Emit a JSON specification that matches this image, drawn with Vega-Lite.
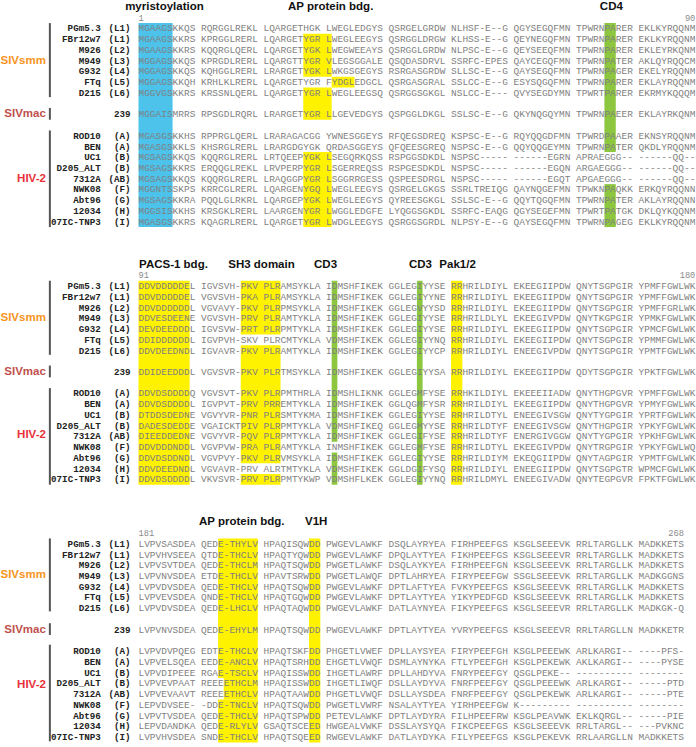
{
  "$schema": "https://vega.github.io/schema/vega-lite/v6.json",
  "width": 696,
  "height": 747,
  "padding": 0,
  "autosize": {"type": "fit", "contains": "padding"},
  "background": "white",
  "config": {"view": {"stroke": null}},
  "resolve": {"scale": {"color": "independent"}},
  "datasets": {
    "hl": [
      {"x0": 0, "x1": 6, "y0": -0.5, "y1": 18.5, "kind": "cyan"},
      {"x0": 29, "x1": 34, "y0": 0.5, "y1": 4.5, "kind": "yellow"},
      {"x0": 34, "x1": 38, "y0": 4.5, "y1": 5.5, "kind": "yellow"},
      {"x0": 29, "x1": 34, "y0": 5.5, "y1": 8.5, "kind": "yellow"},
      {"x0": 29, "x1": 34, "y0": 11.5, "y1": 18.5, "kind": "yellow"},
      {"x0": 82, "x1": 84, "y0": -0.5, "y1": 11.5, "kind": "green"},
      {"x0": 82, "x1": 84, "y0": 14.5, "y1": 18.5, "kind": "green"},
      {"x0": 0, "x1": 9, "y0": 23.5, "y1": 42.5, "kind": "yellow"},
      {"x0": 18, "x1": 25, "y0": 23.5, "y1": 28.5, "kind": "yellow"},
      {"x0": 18, "x1": 25, "y0": 29.5, "y1": 40.5, "kind": "yellow"},
      {"x0": 18, "x1": 25, "y0": 41.5, "y1": 42.5, "kind": "yellow"},
      {"x0": 34, "x1": 35, "y0": 23.5, "y1": 38.5, "kind": "green"},
      {"x0": 34, "x1": 35, "y0": 39.5, "y1": 42.5, "kind": "green"},
      {"x0": 49, "x1": 50, "y0": 23.5, "y1": 42.5, "kind": "green"},
      {"x0": 55, "x1": 57, "y0": 23.5, "y1": 42.5, "kind": "yellow"},
      {"x0": 14, "x1": 21, "y0": 47.5, "y1": 60.5, "kind": "yellow"},
      {"x0": 15, "x1": 21, "y0": 60.5, "y1": 62.5, "kind": "yellow"},
      {"x0": 14, "x1": 21, "y0": 62.5, "y1": 66.5, "kind": "yellow"},
      {"x0": 30, "x1": 32, "y0": 47.5, "y1": 66.5, "kind": "yellow"}
    ],
    "grp": [
      {"grp": "SIVsmm", "y0": -0.5, "y1": 6.4, "ly": 3},
      {"grp": "SIVmac", "y0": 7.4, "y1": 8.5, "ly": 8},
      {"grp": "HIV-2", "y0": 9.5, "y1": 18.5, "ly": 14},
      {"grp": "SIVsmm", "y0": 23.5, "y1": 30.4, "ly": 27},
      {"grp": "SIVmac", "y0": 31.4, "y1": 32.5, "ly": 32},
      {"grp": "HIV-2", "y0": 33.5, "y1": 42.5, "ly": 37.9},
      {"grp": "SIVsmm", "y0": 47.5, "y1": 54.3, "ly": 50.9},
      {"grp": "SIVmac", "y0": 55.4, "y1": 56.5, "ly": 56},
      {"grp": "HIV-2", "y0": 57.4, "y1": 66.4, "ly": 61.2}
    ],
    "titles": [
      {"t": "myristoylation", "col": -2.35, "line": -2},
      {"t": "AP protein bdg.", "col": 26.3, "line": -2},
      {"t": "CD4", "col": 81.2, "line": -2},
      {"t": "PACS-1 bdg.", "col": 0.1, "line": 22},
      {"t": "SH3 domain", "col": 15.8, "line": 22},
      {"t": "CD3", "col": 30.9, "line": 22},
      {"t": "CD3", "col": 47.6, "line": 22},
      {"t": "Pak1/2", "col": 52.95, "line": 22},
      {"t": "AP protein bdg.", "col": 10.65, "line": 46},
      {"t": "V1H", "col": 29.3, "line": 46}
    ],
    "numStart": [
      {"t": "1", "col": 0, "line": -1},
      {"t": "91", "col": 0, "line": 23},
      {"t": "181", "col": 0, "line": 47}
    ],
    "numEnd": [
      {"t": "90", "col": 98, "line": -1},
      {"t": "180", "col": 98, "line": 23},
      {"t": "268", "col": 96, "line": 47}
    ],
    "seq": [
      {"line": 0, "name": "PGm5.3", "clade": "(L1)", "seq": "MGAAGSKKQS RQRGGLREKL LQARGETHGK LWEGLEDGYS QSRGELGRDW NLHSF-E--G QGYSEGQFMN TPWRNPARER EKLKYRQQNM"},
      {"line": 1, "name": "FBr12w7", "clade": "(L1)", "seq": "MGAAGSKKRS KPRGGLRERL LQARGETYGR LWEGLEEGYS QSRGGLDRGW KLHSS-E--G QEYNEGQFMN TPWRNPARER EKLKYRQQNM"},
      {"line": 2, "name": "M926", "clade": "(L2)", "seq": "MGAAGSKKRS KQQRGLQERL LQARGETYGK LWEGWEEAYS QSRGGLGRDW NLPSC-E--G QEYSEEQFMN TPWRNPARER EKLEYRKQNM"},
      {"line": 3, "name": "M949", "clade": "(L3)", "seq": "MGGAGSKKQS KPRGDLRERL LQARGTTYGR VLEGSGGALE QSQDASDRVL SSRFC-EPES QAYCEGQFMN TPWRNPATER AKLQYRQQCM"},
      {"line": 4, "name": "G932", "clade": "(L4)", "seq": "MGGAGSKKQS KQHGGLRERL LRARGETYGK LWKGSGEGYS RSRGASGRDW SLLSC-E--G QAYSEGQFMN TPWRNPAGER EKELYRQQNM"},
      {"line": 5, "name": "FTq", "clade": "(L5)", "seq": "MGGAGSKKQH KRHLKLRERL LQARGETYGR FYDGLEDGCL QSRGASGRAL SSLCC-E--G ESYSQGQFMN TPWRNPARER EKLAYRQQNM"},
      {"line": 6, "name": "D215", "clade": "(L6)", "seq": "MGGVGSKKRS KRSSNLQERL LQARGETYGR LWEGLEEGSQ QSRGGSGKGL NSLCC-E--- QVYSEGDYMN TPWRTPARER EKRMYKQQQM"},
      {"line": 8, "name": "", "clade": "239", "seq": "MGGAISMRRS RPSGDLRQRL LRARGETYGR LLGEVEDGYS QSPGGLDKGL SSLSC-E--G QKYNQGQYMN TPWRNPAEER EKLAYRKQNM"},
      {"line": 10, "name": "ROD10", "clade": "(A)", "seq": "MGASGSKKHS RPPRGLQERL LRARAGACGG YWNESGGEYS RFQEGSDREQ KSPSC-E--G RQYQQGDFMN TPWRDPAAER EKNSYRQQNM"},
      {"line": 11, "name": "BEN", "clade": "(A)", "seq": "MGASGSKKLS KHSRGLRERL LRARGDGYGK QRDASGGEYS QFQEESGREQ NSPSC-E--G QQYQQGEYMN TPWRNPATER QKDLYRQQNM"},
      {"line": 12, "name": "UC1", "clade": "(B)", "seq": "MGSAGSKKQS KQQRGLRERL LRTQEEPYGK LSEGQRKQSS RSPGGSDKDL NSPSC----- ------EGRN APRAEGGG-- ------QQ--"},
      {"line": 13, "name": "D205_ALT", "clade": "(B)", "seq": "MGSAGSKKRS ERQQGLREKL LRVPERPYGR LSGERREQSS RSPGESDKDL NSPSC----- ------EGQN ARGAEGGG-- ------QQ--"},
      {"line": 14, "name": "7312A", "clade": "(AB)", "seq": "MGSAGSKKQS KQQRGLRERL LRAQGGPYGR LSGGRRGESS QSPEESDRGL NSPSC----- ------EGQT APGAEGGG-- ------QQ--"},
      {"line": 15, "name": "NWK08", "clade": "(F)", "seq": "MGGNTSSKPS KRRCGLRERL LQARGENYGQ LWEGLEEGYS QSRGELGKGS SSRLTREIQG QAYNQGEFMN TPWKNPAQKK ERKQYRQQNN"},
      {"line": 16, "name": "Abt96", "clade": "(G)", "seq": "MGSAGSKKRA PQQLGLRKRL LQARGEPYGK LWEGLEEGYS QYREESGKGL SSLSC-E--G QQYTQGQFMN TPWRNPATER AKLAYRQQNN"},
      {"line": 17, "name": "12034", "clade": "(H)", "seq": "MGGSISKKHS KRSGKLRERL LAARGENYGR LWGGLEDGFE LYQGGSGKDL SSRFC-EAQG QGYSEGEFMN TPWRTPATGK DKLQYKQQNM"},
      {"line": 18, "name": "07IC-TNP3", "clade": "(I)", "seq": "MGASGSKKRS KQAGRLRERL LQARGETYGR LWDGLEEGYS QSRGGSGRDL NLPSY-E--G QAYSEGQFMN TPWRNPAGEG EKLKYRQQNM"},
      {"line": 24, "name": "PGm5.3", "clade": "(L1)", "seq": "DDVDDDDDEL IGVSVH-PKV PLRAMSYKLA IDMSHFIKEK GGLEGIYYSE RRHRILDIYL EKEEGIIPDW QNYTSGPGIR YPMFFGWLWK"},
      {"line": 25, "name": "FBr12w7", "clade": "(L1)", "seq": "DDVDDDDDEL VGVSVH-PKA PLRAMSYKLA IDMSHFIKEK GGLEGIYYNE RRHRILDIYL EKEEGIIPDW QNYTSGPGIR YPMFFGWLWK"},
      {"line": 26, "name": "M926", "clade": "(L2)", "seq": "DDVDDDDDDL VGVAVY-PKV PLRPMSYKLA IDMSHFIKEK GGLEGVYYSD RRHRILDIYL EKEEGIIPDW QNYTSGPGIR YPMFFGRLWK"},
      {"line": 27, "name": "M949", "clade": "(L3)", "seq": "DDVESDEENE VGVSVH-PRV PLRAMTYKLA IDMSHFIKEK GGLEGIYYSE RRHRILDLYL EKEEGIVPDW QNYTKGPGIR YPMKFGWLWK"},
      {"line": 28, "name": "G932", "clade": "(L4)", "seq": "DEVDEEDDDL IGVSVW-PRT PLRPMTYKLA IDMSHFIKEK GGLEGIYYSE RRHRILDIYL EKEEGIIPDW QNYTSGPGIR YPMCFGWLWK"},
      {"line": 29, "name": "FTq", "clade": "(L5)", "seq": "DDIDDDDDDL IGVPVH-SKV PLRCMTYKLA VDMSHFIKEK GGLEGIYYNQ RRHRILDIYL EKEEGIIPDW QNYTSGPGIR YPMMFGWLWK"},
      {"line": 30, "name": "D215", "clade": "(L6)", "seq": "DDVDEEDNDL IGVAVR-PKV PLRAMTYKLA IDMSHFIKEK GGLEGIYYCP RRHRILDIYL ENEEGIVPDW QNYTSGPGIR YPMTFGWLWK"},
      {"line": 32, "name": "", "clade": "239", "seq": "DDIDEEDDDL VGVSVR-PKV PLRTMSYKLA IDMSHFIKEK GGLEGIYYSA RRHRILDIYL EKEEGIIPDW QDYTSGPGIR YPKTFGWLWK"},
      {"line": 34, "name": "ROD10", "clade": "(A)", "seq": "DDVDSDDDDQ VGVSVT-PKV PLRPMTHRLA IDMSHLIKNK GGLEGMFYSE RRHKILDIYL EKEEEIIADW QNYTHGPGVR YPMFFGWLWK"},
      {"line": 35, "name": "BEN", "clade": "(A)", "seq": "DDVDSDDDDL IGVPVT-PRV PRREMTYKLA IDMSHFIKEK GGLQGMFYSR RRHRILDIYL EKEEGIIPDW QNYTHGPGVR YPMYFGWLWK"},
      {"line": 36, "name": "UC1", "clade": "(B)", "seq": "DTDDSDEDNE VGVYVR-PNR PLRSMTYKMA IDMSHFIKEK GGLEGIYYSE RRHRILDTYL ENEEGIVSGW QNYTYGPGIR YPRTFGWLWK"},
      {"line": 37, "name": "D205_ALT", "clade": "(B)", "seq": "DADESDEDDE VGAICKTPIV PLRPMTYKLA VDMSHFIKEQ GGLEGMYYSE RRHRILDTYF ENEEGIVSGW QNYTHGPGIR YPKYFGWLWK"},
      {"line": 38, "name": "7312A", "clade": "(AB)", "seq": "DIEEDDEDNE VGVYVR-PQV PLRPMTYKLA IDMSHFIKEK GGLEGIFYSE RRHRILDTYF ENERGIVGGW QNYTYGPGIR YPKHFGWLWK"},
      {"line": 39, "name": "NWK08", "clade": "(F)", "seq": "DDVDDDNDDL VGVPVW-PRA PLRAMTYKLA INMSHFIKEK GGLEGMFYSE RRHRILDTYL EKEEGIVPDW QNYTRGPGIR YPKYFGWLWQ"},
      {"line": 40, "name": "Abt96", "clade": "(G)", "seq": "DDVDSDDNDL VGVPVY-PKV PLRVMSYKLA IDMSHFIKEK GGLEGIYYSE RRHRILDIYM EKEQGIIPDW QNYTAGPGIR YPMTFGWLWK"},
      {"line": 41, "name": "12034", "clade": "(H)", "seq": "DDVDEEDNDL VGVAVR-PRV ALRTMTYKLA VDMSHFIKEK GGLDGIFYSQ RRHRILDIYL ENEEGIIPDW QNYTSGPGTR WPMCFGWLWK"},
      {"line": 42, "name": "07IC-TNP3", "clade": "(I)", "seq": "DDVDSDDDDL VKVSVR-PRV PLRPMTYKWP VDMSHFLKEK GGLEGIYYNQ RRHRILDMYL ENEEGIVADW QNYTEGPGVR FPKTFGWLWK"},
      {"line": 48, "name": "PGm5.3", "clade": "(L1)", "seq": "LVPVSASDEA QEDE-THYLV HPAQISQWDD PWGEVLAWKF DSQLAYRYEA FIRHPEEFGS KSGLSEEEVK RRLTARGLLK MADKKETS"},
      {"line": 49, "name": "FBr12w7", "clade": "(L1)", "seq": "LVPVHVSEEA QTDE-THCLV HPAQTYQWDD PWGEVLAWKF DPQLAYTYEA FIKHPEEFGS KSGLSEEEVR RRLTARGLLK MADKKETS"},
      {"line": 50, "name": "M926", "clade": "(L2)", "seq": "LVPVSVTDEA QEDE-THCLM HPAQTSQWDD PWGETLAWKF DSQLAYKYEA FIRHPEEFGN KSGLSEEEVK RRLTARGLLK MADKKETS"},
      {"line": 51, "name": "M949", "clade": "(L3)", "seq": "LVPVNVSDEA ETDE-THCLV HPAVTSRWDD PWGETLAWQF DPTLAHRYEA FIRYPEEFGW SSGLSEEEVK RRLTARGLLK MADKGGNS"},
      {"line": 52, "name": "G932", "clade": "(L4)", "seq": "LVPVDVSDEA QEDE-THCLV HPAQTSQWDD PWGEVLAWKF DPTLAFTYEA FVKYPEEFGS KSGLSEEEVK RRLTARGLLK MADKKETS"},
      {"line": 53, "name": "FTq", "clade": "(L5)", "seq": "LVPVEVSDEA QNDE-THCLV HPAQTGQWDD PWGEVLAWKF DPTLAYTYEA YIKYPEDFGD KSGLSEEEVK RRLTARGLLK MADKKETS"},
      {"line": 54, "name": "D215", "clade": "(L6)", "seq": "LVPVDVSDEA QEDE-LHCLV HPAQTAQWDD PWGEVLAWKF DATLAYNYEA FIKYPEEFGS KSGLSEEEVR RRLTARGLLK MADKGK-Q"},
      {"line": 56, "name": "", "clade": "239", "seq": "LVPVNVSDEA QEDE-EHYLM HPAQTSQWDD PWGEVLAWKF DPTLAYTYEA YVRYPEEFGS KSGLSEEEVR RRLTARGLLN MADKKETR"},
      {"line": 58, "name": "ROD10", "clade": "(A)", "seq": "LVPVDVPQEG EDTE-THCLV HPAQTSKFDD PHGETLVWEF DPLLAYSYEA FIRYPEEFGH KSGLPEEEWK ARLKARGI-- ----PFS-"},
      {"line": 59, "name": "BEN", "clade": "(A)", "seq": "LVPVELSQEA EEDE-ANCLV HPAQTSRHDD EHGETLVWQF DSMLAYNYKA FTLYPEEFGH KSGLPEKEWK AKLKARGI-- ----PYSE"},
      {"line": 60, "name": "UC1", "clade": "(B)", "seq": "LVPVDIPEEE RGAE-TSCLV HPAQISSWDD IHGETLAWRF DPLLAHDYVA FNRYPEEFGY QSGLPEKE-- ---------- --------"},
      {"line": 61, "name": "D205_ALT", "clade": "(B)", "seq": "LVPVEVPAAT REEEETHCLM HPAQISSWDD IHGETLIWQF DSLLAYDYVA FNRFPEEFGY QSGLPEEEWK ARLKARGI-- -----PTD"},
      {"line": 62, "name": "7312A", "clade": "(AB)", "seq": "LVPVEVAAVT REEEETHCLV HPAQTAAWDD PHGETLVWQF DSLLAYSDEA FNRFPEEFGY QSGLPEKEWK ARLKARGI-- -----PTE"},
      {"line": 63, "name": "NWK08", "clade": "(F)", "seq": "LEPVDVSEE- -DDE-TNCLV HPAQTSQWDD PWGETLVWRF NSALAYTYEA YIRHPEEFGW K--------- ---------- --------"},
      {"line": 64, "name": "Abt96", "clade": "(G)", "seq": "LVPVTVSDEA QEDE-THCLV HPAQTSPWDD PETEVLAWKF DPTLAYDYRA FILHPEEFRW KSGLPEAVWK EKLKQRGL-- -----PIE"},
      {"line": 65, "name": "12034", "clade": "(H)", "seq": "LEPVDANDKA QEDE-RLYLV GSAQTSCEED HWGEALVWKF DSSLAYSYQA FIKCPEEFGS KSGLSEEEVK RRLTARGL-- ---PVKNC"},
      {"line": 66, "name": "07IC-TNP3", "clade": "(I)", "seq": "LVPVHVSDEA SNDE-THCLV HPAQTSQEED RWGEVLAWKF DATLAYDYKA FILYPEEFGS KSGLPEKEVK RRLAARGLLN MADKKETS"}
    ]
  },
  "layer": [
    {
      "data": {"name": "hl"},
      "mark": {"type": "rect"},
      "encoding": {
        "x": {"field": "x0", "type": "quantitative", "scale": {"domain": [-24.2, 98.12], "nice": false, "zero": false}, "axis": null},
        "x2": {"field": "x1"},
        "y": {"field": "y0", "type": "quantitative", "scale": {"domain": [-2.558, 66.93], "nice": false, "zero": false, "reverse": true}, "axis": null},
        "y2": {"field": "y1"},
        "color": {"field": "kind", "type": "nominal", "scale": {"domain": ["cyan", "yellow", "green"], "range": ["#4DC3EC", "#FFF200", "#8DC63F"]}, "legend": null}
      }
    },
    {
      "data": {"name": "grp"},
      "mark": {"type": "rule", "color": "#555555", "strokeWidth": 2},
      "encoding": {
        "x": {"datum": -15.6, "type": "quantitative", "scale": {"domain": [-24.2, 98.12], "nice": false, "zero": false}, "axis": null},
        "y": {"field": "y0", "type": "quantitative", "scale": {"domain": [-2.558, 66.93], "nice": false, "zero": false, "reverse": true}, "axis": null},
        "y2": {"field": "y1"}
      }
    },
    {
      "data": {"name": "grp"},
      "mark": {"type": "text", "align": "right", "baseline": "middle", "font": "Liberation Sans", "fontWeight": "bold", "fontSize": 11.5},
      "encoding": {
        "x": {"datum": -16.3, "type": "quantitative", "scale": {"domain": [-24.2, 98.12], "nice": false, "zero": false}, "axis": null},
        "y": {"field": "ly", "type": "quantitative", "scale": {"domain": [-2.558, 66.93], "nice": false, "zero": false, "reverse": true}, "axis": null},
        "text": {"field": "grp"},
        "color": {"field": "grp", "type": "nominal", "scale": {"domain": ["SIVsmm", "SIVmac", "HIV-2"], "range": ["#F7941D", "#C0504D", "#E8303A"]}, "legend": null}
      }
    },
    {
      "data": {"name": "seq"},
      "mark": {"type": "text", "align": "left", "baseline": "middle", "font": "Liberation Mono", "fontSize": 9.48, "color": "#7f7f7f"},
      "encoding": {
        "x": {"datum": 0, "type": "quantitative", "scale": {"domain": [-24.2, 98.12], "nice": false, "zero": false}, "axis": null},
        "y": {"field": "line", "type": "quantitative", "scale": {"domain": [-2.558, 66.93], "nice": false, "zero": false, "reverse": true}, "axis": null},
        "text": {"field": "seq"}
      }
    },
    {
      "data": {"name": "seq"},
      "mark": {"type": "text", "align": "right", "baseline": "middle", "font": "Liberation Mono", "fontWeight": "bold", "fontSize": 9.2, "color": "#222222"},
      "encoding": {
        "x": {"datum": -6.65, "type": "quantitative", "scale": {"domain": [-24.2, 98.12], "nice": false, "zero": false}, "axis": null},
        "y": {"field": "line", "type": "quantitative", "scale": {"domain": [-2.558, 66.93], "nice": false, "zero": false, "reverse": true}, "axis": null},
        "text": {"field": "name"}
      }
    },
    {
      "data": {"name": "seq"},
      "mark": {"type": "text", "align": "right", "baseline": "middle", "font": "Liberation Mono", "fontWeight": "bold", "fontSize": 9.2, "color": "#222222"},
      "encoding": {
        "x": {"datum": -1.4, "type": "quantitative", "scale": {"domain": [-24.2, 98.12], "nice": false, "zero": false}, "axis": null},
        "y": {"field": "line", "type": "quantitative", "scale": {"domain": [-2.558, 66.93], "nice": false, "zero": false, "reverse": true}, "axis": null},
        "text": {"field": "clade"}
      }
    },
    {
      "data": {"name": "titles"},
      "mark": {"type": "text", "align": "left", "baseline": "middle", "font": "Liberation Sans", "fontWeight": "bold", "fontSize": 11.5, "color": "#111111"},
      "encoding": {
        "x": {"field": "col", "type": "quantitative", "scale": {"domain": [-24.2, 98.12], "nice": false, "zero": false}, "axis": null},
        "y": {"field": "line", "type": "quantitative", "scale": {"domain": [-2.558, 66.93], "nice": false, "zero": false, "reverse": true}, "axis": null},
        "text": {"field": "t"}
      }
    },
    {
      "data": {"name": "numStart"},
      "mark": {"type": "text", "align": "left", "baseline": "middle", "font": "Liberation Mono", "fontSize": 8.7, "color": "#8a8a8a"},
      "encoding": {
        "x": {"field": "col", "type": "quantitative", "scale": {"domain": [-24.2, 98.12], "nice": false, "zero": false}, "axis": null},
        "y": {"field": "line", "type": "quantitative", "scale": {"domain": [-2.558, 66.93], "nice": false, "zero": false, "reverse": true}, "axis": null},
        "text": {"field": "t"}
      }
    },
    {
      "data": {"name": "numEnd"},
      "mark": {"type": "text", "align": "right", "baseline": "middle", "font": "Liberation Mono", "fontSize": 8.7, "color": "#8a8a8a"},
      "encoding": {
        "x": {"field": "col", "type": "quantitative", "scale": {"domain": [-24.2, 98.12], "nice": false, "zero": false}, "axis": null},
        "y": {"field": "line", "type": "quantitative", "scale": {"domain": [-2.558, 66.93], "nice": false, "zero": false, "reverse": true}, "axis": null},
        "text": {"field": "t"}
      }
    }
  ]
}
